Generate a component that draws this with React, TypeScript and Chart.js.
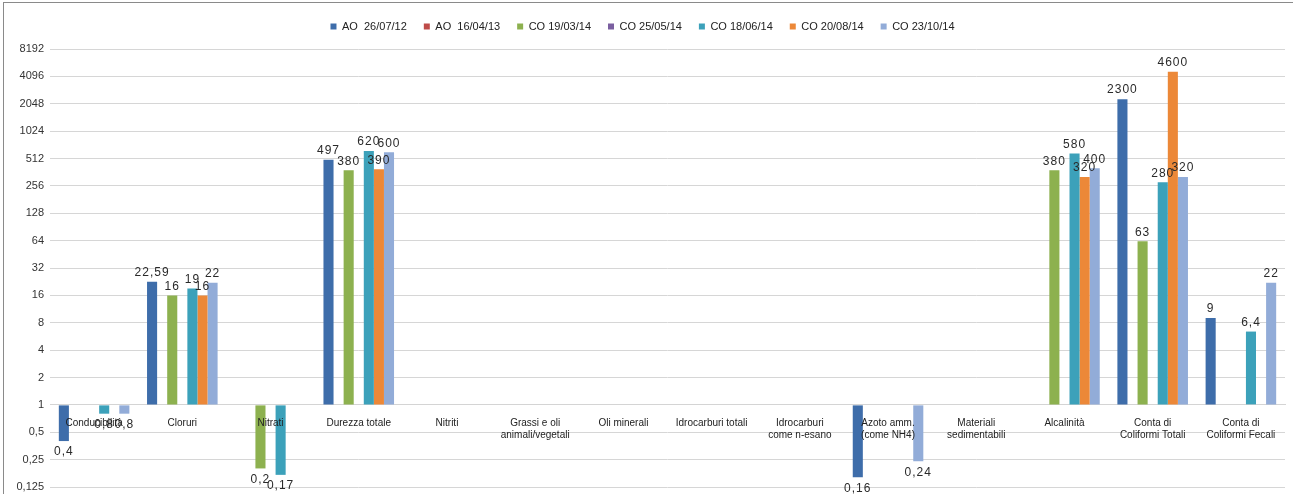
import React, { useEffect, useRef } from "react";
import { Chart, registerables } from "chart.js";

Chart.register(...registerables);

const categories: (string | string[])[] = [
  "Conducibilità",
  "Cloruri",
  "Nitrati",
  "Durezza totale",
  "Nitriti",
  ["Grassi e oli", "animali/vegetali"],
  "Oli minerali",
  "Idrocarburi totali",
  ["Idrocarburi", "come n-esano"],
  ["Azoto amm.", "(come NH4)"],
  ["Materiali", "sedimentabili"],
  "Alcalinità",
  ["Conta di", "Coliformi Totali"],
  ["Conta di", "Coliformi Fecali"],
];

const seriesNames = [
  "AO  26/07/12",
  "AO  16/04/13",
  "CO 19/03/14",
  "CO 25/05/14",
  "CO 18/06/14",
  "CO 20/08/14",
  "CO 23/10/14",
];

const ao260712: (number | null)[] = [0.4, 22.59, null, 497, null, null, null, null, null, 0.16, null, null, 2300, 9];
const ao160413: (number | null)[] = [null, null, null, null, null, null, null, null, null, null, null, null, null, null];
const co190314: (number | null)[] = [null, 16, 0.2, 380, null, null, null, null, null, null, null, 380, 63, null];
const co250514: (number | null)[] = [null, null, null, null, null, null, null, null, null, null, null, null, null, null];
const co180614: (number | null)[] = [0.8, 19, 0.17, 620, null, null, null, null, null, null, null, 580, 280, 6.4];
const co200814: (number | null)[] = [null, 16, null, 390, null, null, null, null, null, null, null, 320, 4600, null];
const co231014: (number | null)[] = [0.8, 22, null, 600, null, null, null, null, null, 0.24, null, 400, 320, 22];

const seriesValues = [ao260712, ao160413, co190314, co250514, co180614, co200814, co231014];
const seriesColors = ["#3E6DAA", "#BE4B48", "#8DB14F", "#7A5FA0", "#3CA1BA", "#EC8838", "#92ACD8"];

const yTickValues = [0.125, 0.25, 0.5, 1, 2, 4, 8, 16, 32, 64, 128, 256, 512, 1024, 2048, 4096, 8192];
const yTickLabels = ["0,125", "0,25", "0,5", "1", "2", "4", "8", "16", "32", "64", "128", "256", "512", "1024", "2048", "4096", "8192"];

const FONT = "'Liberation Sans', Arial, sans-serif";

const valueLabels = {
  id: "valueLabels",
  afterDatasetsDraw(chart: any) {
    const ctx = chart.ctx;
    const yScale = chart.scales.y;
    ctx.save();
    ctx.font = `12px ${FONT}`;
    try { (ctx as any).letterSpacing = "1px"; } catch (e) {}
    ctx.fillStyle = "#2a2a2a";
    ctx.textAlign = "center";
    chart.data.datasets.forEach((ds: any, i: number) => {
      const meta = chart.getDatasetMeta(i);
      ds.data.forEach((v: number | null, j: number) => {
        if (v == null) return;
        const el = meta.data[j];
        if (!el) return;
        const y = yScale.getPixelForValue(v);
        const txt = String(v).replace(".", ",");
        if (v >= 1) {
          ctx.textBaseline = "bottom";
          ctx.fillText(txt, el.x, y - 3);
        } else {
          ctx.textBaseline = "top";
          ctx.fillText(txt, el.x, y + 5);
        }
      });
    });
    ctx.restore();
  },
};

const legendSpacer = {
  id: "legendSpacer",
  beforeInit(chart: any) {
    const legend = chart.legend;
    if (!legend) return;
    const origFit = legend.fit;
    legend.fit = function () {
      origFit.call(this);
      this.height += 7;
    };
  },
};

export default function App() {
  const canvasRef = useRef<HTMLCanvasElement | null>(null);

  useEffect(() => {
    if (!canvasRef.current) return;
    Chart.defaults.font.family = FONT;
    const chart = new Chart(canvasRef.current, {
      type: "bar",
      data: {
        labels: categories,
        datasets: seriesNames.map((name, i) => ({
          label: name,
          data: seriesValues[i],
          backgroundColor: seriesColors[i],
          borderWidth: 0,
          base: 1,
          categoryPercentage: 0.8,
          barPercentage: 1.0,
        })) as any,
      },
      options: {
        animation: false,
        responsive: false,
        maintainAspectRatio: false,
        layout: { padding: { top: 4, right: 8, bottom: 7, left: 0 } },
        plugins: {
          tooltip: { enabled: false },
          legend: {
            position: "top",
            labels: {
              boxWidth: 6,
              boxHeight: 6,
              padding: 17,
              color: "#222",
              font: { size: 11, family: FONT },
            },
          },
        },
        scales: {
          x: {
            position: { y: 1 } as any,
            grid: { display: false },
            border: { display: true, color: "#d4d4d4" },
            afterFit: (scale: any) => {
              scale.paddingTop = 0;
              scale.paddingBottom = 0;
            },
            ticks: {
              z: 1,
              autoSkip: false,
              maxRotation: 0,
              minRotation: 0,
              color: "#222",
              font: { size: 10, family: FONT },
              padding: 4,
            },
          },
          y: {
            type: "logarithmic",
            min: 0.125,
            max: 8192,
            afterBuildTicks: (scale: any) => {
              scale.ticks = yTickValues.map((v) => ({ value: v }));
            },
            afterFit: (scale: any) => {
              scale.width = 50;
              scale.paddingTop = 0;
              scale.paddingBottom = 0;
            },
            grid: { color: "#d6d6d6", drawTicks: false },
            border: { display: false },
            ticks: {
              color: "#333",
              padding: 6,
              font: { size: 11, family: FONT },
              callback: (value: any) => {
                const idx = yTickValues.indexOf(Number(value));
                return idx >= 0 ? yTickLabels[idx] : "";
              },
            },
          },
        },
      },
      plugins: [valueLabels, legendSpacer],
    });
    return () => chart.destroy();
  }, []);

  return (
    <div style={{ position: "absolute", left: 0, top: 0, width: 1293, height: 494, overflow: "hidden", background: "#fff" }}>
      <div
        style={{
          position: "absolute",
          left: 3,
          top: 2,
          width: 1300,
          height: 510,
          borderTop: "1px solid #8a8a8a",
          borderLeft: "1px solid #8a8a8a",
        }}
      />
      <canvas ref={canvasRef} width={1293} height={494} style={{ position: "absolute", left: 0, top: 0, display: "block" }} />
    </div>
  );
}
